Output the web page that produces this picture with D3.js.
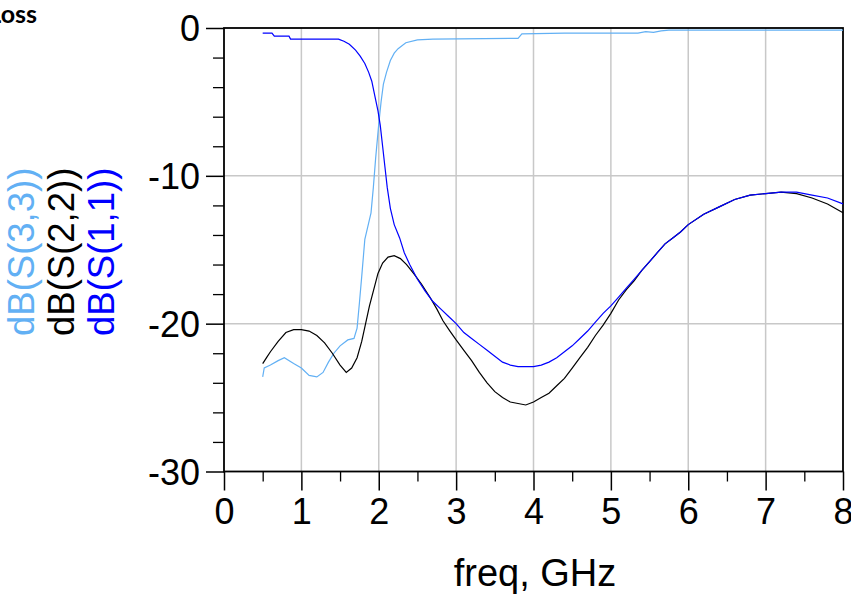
<!DOCTYPE html>
<html>
<head>
<meta charset="utf-8">
<script src="https://cdn.jsdelivr.net/npm/d3@7"></script>
<style>
	body { margin: 0; background: #fff; }
	svg { display: block; }
</style>
</head>
<body>
<div id="chart"></div>
<script>
// S-parameter traces (freq in GHz, values in dB)
const freqS11 = [0.5, 0.62, 0.65, 0.84, 0.86, 1.48, 1.55, 1.62, 1.7, 1.76, 1.82, 1.87, 1.91, 1.95, 1.99, 2.02, 2.05, 2.08, 2.11, 2.15, 2.2, 2.27, 2.33, 2.4, 2.5, 2.6, 2.7, 2.8, 2.9, 3.0, 3.1, 3.2, 3.3, 3.4, 3.5, 3.6, 3.7, 3.8, 3.9, 4.0, 4.1, 4.2, 4.3, 4.4, 4.5, 4.6, 4.7, 4.8, 4.9, 5.0, 5.1, 5.2, 5.3, 5.4, 5.5, 5.6, 5.7, 5.8, 5.9, 6.0, 6.2, 6.4, 6.6, 6.8, 7.0, 7.2, 7.4, 7.6, 7.8, 8.0];
const s11 = [-0.35, -0.35, -0.55, -0.55, -0.75, -0.75, -0.9, -1.1, -1.5, -1.9, -2.4, -3.0, -3.6, -4.6, -5.6, -6.6, -8.0, -9.4, -10.8, -12.2, -13.3, -14.2, -15.2, -16.0, -17.0, -17.8, -18.5, -19.0, -19.5, -20.0, -20.6, -21.0, -21.4, -21.8, -22.2, -22.6, -22.8, -22.9, -22.9, -22.9, -22.8, -22.6, -22.3, -21.9, -21.5, -21.0, -20.5, -19.9, -19.3, -18.8, -18.2, -17.6, -17.0, -16.4, -15.8, -15.2, -14.6, -14.2, -13.8, -13.3, -12.6, -12.1, -11.6, -11.3, -11.2, -11.1, -11.1, -11.3, -11.5, -11.9];

const freqS22 = [0.5, 0.55, 0.6, 0.7, 0.8, 0.9, 1.0, 1.1, 1.2, 1.3, 1.4, 1.5, 1.58, 1.65, 1.72, 1.78, 1.83, 1.88, 1.93, 1.99, 2.05, 2.12, 2.2, 2.28, 2.36, 2.45, 2.55, 2.66, 2.75, 2.83, 2.92, 3.0, 3.1, 3.2, 3.3, 3.4, 3.5, 3.6, 3.7, 3.8, 3.9, 4.0, 4.1, 4.2, 4.3, 4.4, 4.5, 4.6, 4.7, 4.8, 4.9, 5.0, 5.1, 5.2, 5.3, 5.4, 5.5, 5.6, 5.7, 5.8, 5.9, 6.0, 6.2, 6.4, 6.6, 6.8, 7.0, 7.2, 7.4, 7.6, 7.8, 8.0];
const s22 = [-22.7, -22.3, -21.9, -21.2, -20.6, -20.4, -20.4, -20.5, -20.8, -21.3, -22.0, -22.8, -23.3, -23.0, -22.3, -21.2, -20.0, -18.8, -17.8, -16.6, -15.9, -15.5, -15.4, -15.6, -16.0, -16.6, -17.3, -18.2, -19.0, -19.8, -20.5, -21.1, -21.8, -22.5, -23.3, -24.0, -24.6, -25.0, -25.3, -25.4, -25.5, -25.3, -25.0, -24.7, -24.2, -23.7, -23.0, -22.3, -21.6, -20.8, -20.1, -19.3, -18.4, -17.7, -17.1, -16.4, -15.8, -15.2, -14.6, -14.2, -13.8, -13.3, -12.6, -12.1, -11.6, -11.3, -11.2, -11.1, -11.2, -11.5, -11.9, -12.5];

const freqS33 = [0.5, 0.52, 0.6, 0.7, 0.78, 0.9, 1.0, 1.1, 1.2, 1.28, 1.35, 1.42, 1.5, 1.6, 1.68, 1.72, 1.75, 1.78, 1.82, 1.86, 1.9, 1.93, 1.96, 2.0, 2.03, 2.06, 2.1, 2.15, 2.2, 2.25, 2.35, 2.5, 2.7, 3.8, 3.85, 4.4, 5.35, 5.45, 5.55, 5.65, 5.75, 8.0];
const s33 = [-23.6, -23.0, -22.8, -22.5, -22.3, -22.7, -23.0, -23.5, -23.6, -23.3, -22.6, -22.0, -21.5, -21.1, -21.0, -20.3, -18.6, -16.8, -14.3, -13.4, -12.5, -10.8, -8.8, -6.5, -5.0, -3.8, -3.0, -2.2, -1.7, -1.4, -1.0, -0.8, -0.75, -0.7, -0.4, -0.35, -0.35, -0.25, -0.3, -0.2, -0.15, -0.15];

const xTicks = [0, 1, 2, 3, 4, 5, 6, 7, 8];
const yTicks = [0, -10, -20, -30];
const traceNames = ["dB(S(3,3))", "dB(S(2,2))", "dB(S(1,1))"];
const traceColors = ["#62b0f4", "#000000", "#0000ff"];

const W = 851, H = 594;
const margin = { top: 28, right: 8, bottom: 122.5, left: 224 },
	width = W - margin.left - margin.right,
	height = H - margin.top - margin.bottom;

const svg = d3.select("#chart")
	.append("svg")
	.attr("width", W)
	.attr("height", H)
	.style("font-family", "'Liberation Sans', Arial, sans-serif");

const x = d3.scaleLinear().domain([0, 8]).range([0, width]);
const y = d3.scaleLinear().domain([-30, 0]).range([height, 0]);

const g = svg.append("g")
	.attr("transform", `translate(${margin.left},${margin.top})`);

// grid
g.append("g")
	.selectAll("line")
	.data(xTicks.slice(1, -1))
	.join("line")
	.attr("x1", d => x(d)).attr("x2", d => x(d))
	.attr("y1", 0).attr("y2", height)
	.attr("stroke", "#c8c8c8")
	.attr("stroke-width", 1.5);
g.append("g")
	.selectAll("line")
	.data(yTicks.slice(1, -1))
	.join("line")
	.attr("x1", 0).attr("x2", width)
	.attr("y1", d => y(d)).attr("y2", d => y(d))
	.attr("stroke", "#c8c8c8")
	.attr("stroke-width", 1.5);

// minor ticks
const minorY = d3.range(-30, 0.1, 2).filter(d => d % 10 !== 0);
g.append("g")
	.call(d3.axisLeft(y).tickValues(minorY).tickSize(11).tickFormat(""))
	.call(a => a.select(".domain").remove())
	.selectAll("line").attr("stroke-width", 1.3);
const minorX = d3.range(0.5, 8, 1);
g.append("g")
	.attr("transform", `translate(0,${height})`)
	.call(d3.axisBottom(x).tickValues(minorX).tickSize(10).tickFormat(""))
	.call(a => a.select(".domain").remove())
	.selectAll("line").attr("stroke-width", 1.3);

// major axes
const yAxis = g.append("g")
	.call(d3.axisLeft(y).tickValues(yTicks).tickSize(18).tickPadding(6).tickFormat(d => String(d)));
yAxis.select(".domain").remove();
yAxis.selectAll("line").attr("stroke-width", 1.5);
yAxis.selectAll("text").attr("font-size", 36).attr("fill", "#000").attr("dy", "0.36em");

const xAxis = g.append("g")
	.attr("transform", `translate(0,${height})`)
	.call(d3.axisBottom(x).tickValues(xTicks).tickSize(19).tickPadding(8).tickFormat(d => String(d)));
xAxis.select(".domain").remove();
xAxis.selectAll("line").attr("stroke-width", 1.5);
xAxis.selectAll("text").attr("font-size", 36).attr("fill", "#000");

// frame
g.append("rect")
	.attr("width", width)
	.attr("height", height)
	.attr("fill", "none")
	.attr("stroke", "#000")
	.attr("stroke-width", 1.8);

// traces
const line = d3.line()
	.x(d => x(d[0]))
	.y(d => y(d[1]));

const traces = [
	d3.zip(freqS33, s33),
	d3.zip(freqS22, s22),
	d3.zip(freqS11, s11)
];
g.append("g")
	.selectAll("path")
	.data(traces)
	.join("path")
	.attr("d", line)
	.attr("fill", "none")
	.attr("stroke", (d, i) => traceColors[i])
	.attr("stroke-width", 1.2);

// x label
svg.append("text")
	.attr("x", 535)
	.attr("y", 586)
	.attr("text-anchor", "middle")
	.attr("font-size", 38)
	.text("freq, GHz");

// rotated trace names
svg.append("g")
	.selectAll("text")
	.data(traceNames)
	.join("text")
	.attr("transform", (d, i) => `translate(${34 + i * 40},336) rotate(-90)`)
	.attr("font-size", 36.5)
	.attr("fill", (d, i) => traceColors[i])
	.text(d => d);

// title, cut off by the left edge as in the original
svg.append("text")
	.attr("x", 37)
	.attr("y", 23)
	.attr("text-anchor", "end")
	.attr("font-family", "Lato, sans-serif")
	.attr("font-weight", 700)
	.attr("font-size", 25)
	.text("Return Loss");
</script>
</body>
</html>
